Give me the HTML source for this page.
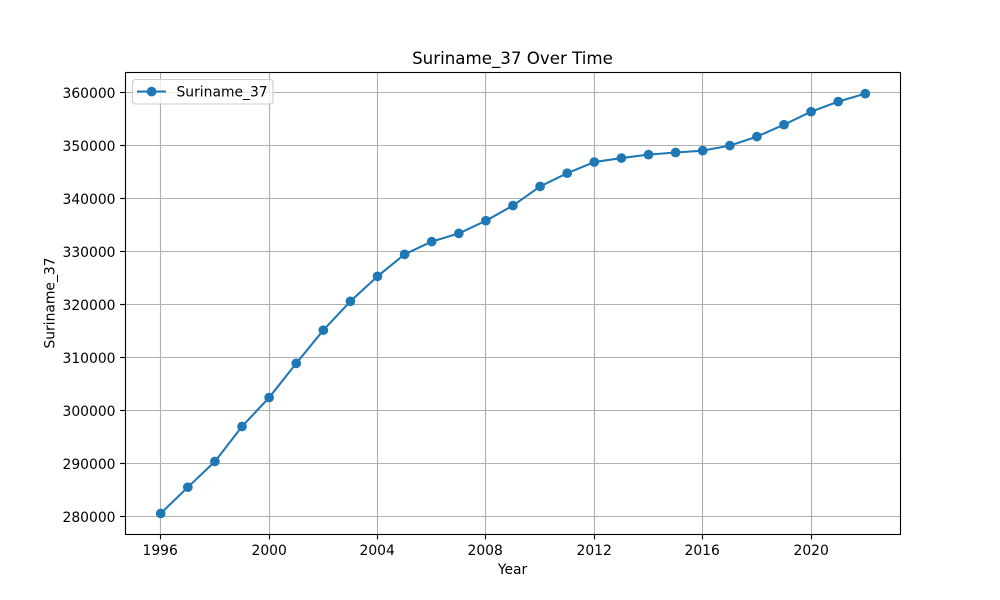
<!DOCTYPE html>
<html lang="en">
<head>
<meta charset="utf-8">
<title>Suriname_37 Over Time</title>
<style>
html,body{margin:0;padding:0;background:#fff;}
svg{display:block;font-family:"DejaVu Sans","Liberation Sans",sans-serif;}
text{fill:#000;}
</style>
</head>
<body>
<svg id="chart" xmlns="http://www.w3.org/2000/svg" width="1000" height="600" viewBox="0 0 1000 600">
  <rect x="0" y="0" width="1000" height="600" fill="#ffffff"/>
  <rect x="125" y="72" width="775" height="462" fill="#ffffff"/>
  <g id="grid"></g>
  <g id="series"></g>
  <g id="ticks"></g>
  <rect x="125.5" y="72.5" width="775" height="462" fill="none" stroke="#000" stroke-width="1.11"/>
  <text x="512.5" y="64" font-size="16.67" text-anchor="middle">Suriname_37 Over Time</text>
  <text x="512.5" y="574" font-size="13.89" text-anchor="middle">Year</text>
  <text x="0" y="0" font-size="13.89" text-anchor="middle" transform="translate(54.5,303) rotate(-90)">Suriname_37</text>
  <g>
    <rect x="132.5" y="79.5" width="140.5" height="24.5" rx="3" ry="3" fill="#ffffff" fill-opacity="0.8" stroke="#cccccc" stroke-width="1.11"/>
    <line x1="137" y1="91.6" x2="166" y2="91.6" stroke="#1f77b4" stroke-width="2.08"/>
    <circle cx="151.6" cy="91.6" r="4.85" fill="#1f77b4"/>
    <text x="176.5" y="96.5" font-size="13.89">Suriname_37</text>
  </g>
</svg>
<script>
const years = [1996,1997,1998,1999,2000,2001,2002,2003,2004,2005,2006,2007,2008,2009,2010,2011,2012,2013,2014,2015,2016,2017,2018,2019,2020,2021,2022];
const seriesValues = [280650,285600,290450,297050,302500,308950,315200,320650,325350,329500,331900,333450,335850,338700,342300,344800,346900,347650,348300,348700,349050,350000,351700,353950,356400,358300,359800];
const xTickLabels = [1996,2000,2004,2008,2012,2016,2020];
const yTickLabels = [280000,290000,300000,310000,320000,330000,340000,350000,360000];

const NS = 'http://www.w3.org/2000/svg';
const plot = {left: 125, right: 900, top: 72, bottom: 534};
const xDomain = [1994.7, 2023.3];
const yDomain = [276700, 363804];

function xScale(v) {
  return 0.5 + plot.left + (v - xDomain[0]) / (xDomain[1] - xDomain[0]) * (plot.right - plot.left);
}
function yScale(v) {
  return 0.4 + plot.bottom - (v - yDomain[0]) / (yDomain[1] - yDomain[0]) * (plot.bottom - plot.top);
}
function snap(p) {
  return Math.floor(p) + 0.5;
}
function make(tag, parent, attrs) {
  const el = document.createElementNS(NS, tag);
  for (const k in attrs) el.setAttribute(k, attrs[k]);
  parent.appendChild(el);
  return el;
}

const gridG = document.getElementById('grid');
const ticksG = document.getElementById('ticks');
const seriesG = document.getElementById('series');

xTickLabels.forEach(function (t) {
  const px = snap(xScale(t));
  const g = make('line', gridG, {x1: px, x2: px, y1: plot.top, y2: plot.bottom, stroke: '#b0b0b0', 'stroke-width': 1.11});
  
  
  const m = make('line', ticksG, {x1: px, x2: px, y1: plot.bottom, y2: plot.bottom + 5.4, stroke: '#000', 'stroke-width': 1.11});
  
  
  const l = make('text', ticksG, {x: px - 0.3, y: 555, 'font-size': 13.89, 'text-anchor': 'middle'});
  l.textContent = String(t);
  
  
});

yTickLabels.forEach(function (t) {
  const py = snap(yScale(t));
  const g = make('line', gridG, {x1: plot.left, x2: plot.right, y1: py, y2: py, stroke: '#b0b0b0', 'stroke-width': 1.11});
  
  
  const m = make('line', ticksG, {x1: plot.left - 4.9, x2: plot.left, y1: py, y2: py, stroke: '#000', 'stroke-width': 1.11});
  
  
  const l = make('text', ticksG, {x: 115.5, y: py + 5.5, 'font-size': 13.89, 'text-anchor': 'end'});
  l.textContent = String(t);
  
  
});

const points = years.map(function (yr, i) {
  return xScale(yr).toFixed(2) + ',' + yScale(seriesValues[i]).toFixed(2);
}).join(' ');
const pl = make('polyline', seriesG, {points: points, fill: 'none', stroke: '#1f77b4', 'stroke-width': 2.08, 'stroke-linejoin': 'round'});



years.forEach(function (yr, i) {
  const c = make('circle', seriesG, {cx: xScale(yr), cy: yScale(seriesValues[i]), r: 4.85, fill: '#1f77b4'});
  
  
});
</script>
</body>
</html>
